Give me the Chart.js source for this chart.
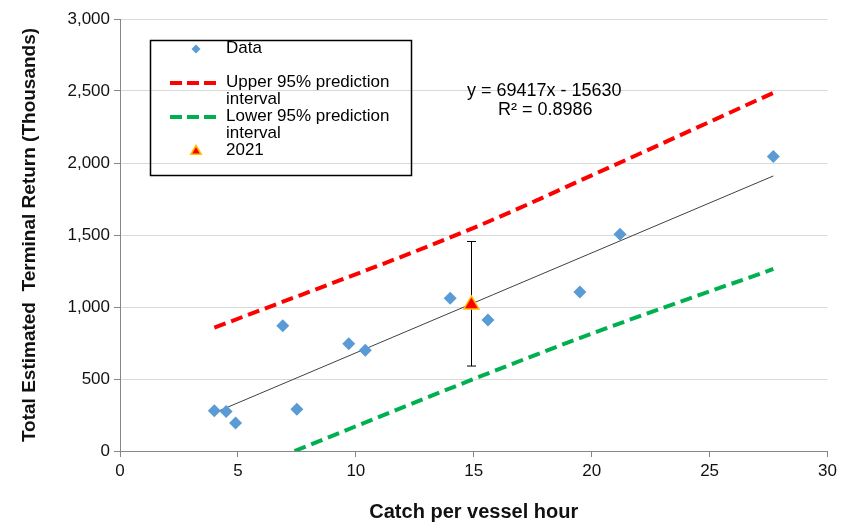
<!DOCTYPE html>
<html>
<head>
<meta charset="utf-8">
<script src="https://cdn.jsdelivr.net/npm/chart.js@4.4.0/dist/chart.umd.min.js"></script>
<style>
  html, body { margin: 0; padding: 0; background: #fff; }
  #wrap { position: relative; width: 841px; height: 524px; }
</style>
</head>
<body>
<div id="wrap"><canvas id="chart" width="841" height="524"></canvas></div>
<script>
// ================== DATA ==================
const cpue    = [4.0, 4.5, 4.9, 6.9, 7.5, 9.7, 10.4, 14.0, 15.6, 19.5, 21.2, 27.7];
const returns = [280, 275, 195, 870, 290, 745, 700, 1060, 910, 1105, 1505, 2045];

const trendX = [4.0, 27.7];
const trendY = [265, 1910];

const upperX = [4.0, 15.0, 20.0, 27.7];
const upperY = [856, 1550, 1914, 2487];

const lowerX = [7.4, 15.0, 20.0, 27.7];
const lowerY = [0, 500, 815, 1264];

const yr2021X = [14.9];
const yr2021Y = [1020];
const errLow  = [590];
const errHigh = [1455];

const xTitle = "Catch per vessel hour";
const yTitle = "Total Estimated  Terminal Return (Thousands)";
const eqLines = ["y = 69417x - 15630", "R\u00b2 = 0.8986"];

// ================== HELPERS ==================
const FONT = "'Liberation Sans', Arial, sans-serif";
const BLUE = "#5b9bd5", RED = "#ff0000", GREEN = "#00b050";
const pts = (xs, ys) => xs.map((x, i) => ({ x, y: ys[i] }));

function diamond(ctx, x, y, r, fill) {
  ctx.beginPath();
  ctx.moveTo(x, y - r); ctx.lineTo(x + r, y); ctx.lineTo(x, y + r); ctx.lineTo(x - r, y);
  ctx.closePath(); ctx.fillStyle = fill; ctx.fill();
}
function triangle(ctx, x, y, r) {
  ctx.beginPath();
  ctx.moveTo(x, y - r); ctx.lineTo(x + r * 0.95, y + r * 0.6); ctx.lineTo(x - r * 0.95, y + r * 0.6);
  ctx.closePath(); ctx.fillStyle = "#ff0000"; ctx.fill();
  ctx.lineWidth = 1.5; ctx.strokeStyle = "#ffc000"; ctx.stroke();
}

// error bar on the 2021 point
const errorBars = {
  id: "errorBars",
  afterDatasetsDraw(chart) {
    const { ctx, scales: { x, y } } = chart;
    ctx.save();
    ctx.strokeStyle = "#000"; ctx.lineWidth = 1;
    yr2021X.forEach((v, i) => {
      const px = Math.round(x.getPixelForValue(v)) + 0.5;
      const top = y.getPixelForValue(errHigh[i]), bot = y.getPixelForValue(errLow[i]);
      ctx.beginPath();
      ctx.moveTo(px, top); ctx.lineTo(px, bot);
      ctx.moveTo(px - 4.5, top); ctx.lineTo(px + 4.5, top);
      ctx.moveTo(px - 4.5, bot); ctx.lineTo(px + 4.5, bot);
      ctx.stroke();
    });
    // triangle sits on top of the bar
    chart.getDatasetMeta(4).data.forEach(p => triangle(ctx, p.x, p.y, 8));
    ctx.restore();
  }
};

// legend box + trendline equation
const legendBox = {
  id: "legendBox",
  afterDraw(chart) {
    const ctx = chart.ctx;
    ctx.save();
    ctx.strokeStyle = "#000"; ctx.lineWidth = 1.5;
    ctx.strokeRect(150.5, 40.5, 261, 135);
    ctx.textBaseline = "middle"; ctx.textAlign = "left";

    diamond(ctx, 196, 49, 4.5, BLUE);

    ctx.lineWidth = 4; ctx.setLineDash([12, 5]);
    ctx.strokeStyle = RED;
    ctx.beginPath(); ctx.moveTo(170, 83); ctx.lineTo(220, 83); ctx.stroke();
    ctx.strokeStyle = GREEN;
    ctx.beginPath(); ctx.moveTo(170, 117); ctx.lineTo(220, 117); ctx.stroke();
    ctx.setLineDash([]);

    triangle(ctx, 196, 151, 5.5);

    ctx.font = "17px " + FONT; ctx.fillStyle = "#000";
    ctx.fillText("Data", 226, 48);
    ctx.fillText("Upper 95% prediction", 226, 82);
    ctx.fillText("interval", 226, 99);
    ctx.fillText("Lower 95% prediction", 226, 116);
    ctx.fillText("interval", 226, 133);
    ctx.fillText("2021", 226, 150);

    ctx.font = "18px " + FONT;
    ctx.fillText(eqLines[0], 467, 91);
    ctx.fillText(eqLines[1], 498, 110);
    ctx.restore();
  }
};

// ================== CHART ==================
new Chart(document.getElementById("chart"), {
  type: "scatter",
  data: {
    datasets: [
      { label: "Data", data: pts(cpue, returns), pointStyle: "rectRot", radius: 6.5,
        backgroundColor: BLUE, borderColor: BLUE, borderWidth: 0, showLine: false, order: 1 },
      { label: "Trend", data: pts(trendX, trendY), showLine: true, pointRadius: 0,
        borderColor: "#404040", borderWidth: 1, order: 2 },
      { label: "Upper 95% prediction interval", data: pts(upperX, upperY), showLine: true,
        pointRadius: 0, borderColor: RED, borderWidth: 4, borderDash: [12, 6], cubicInterpolationMode: "monotone", order: 3 },
      { label: "Lower 95% prediction interval", data: pts(lowerX, lowerY), showLine: true,
        pointRadius: 0, borderColor: GREEN, borderWidth: 4, borderDash: [12, 6], cubicInterpolationMode: "monotone", order: 3 },
      { label: "2021", data: pts(yr2021X, yr2021Y), pointRadius: 0, showLine: false, order: 0 }
    ]
  },
  options: {
    responsive: false,
    animation: false,
    devicePixelRatio: 1,
    layout: { padding: { top: 19, right: 8, left: 0, bottom: 0 } },
    plugins: { legend: { display: false }, tooltip: { enabled: false } },
    scales: {
      x: {
        type: "linear", min: 0, max: 30,
        afterFit: s => { s.height = 73; },
        ticks: { stepSize: 5, color: "#111", font: { family: FONT, size: 17 }, padding: 4 },
        grid: { drawOnChartArea: false, color: "#868686", tickLength: 6 },
        border: { color: "#868686" },
        title: { display: true, text: xTitle, color: "#111",
                 font: { family: FONT, size: 20, weight: "bold" }, padding: { top: 0, bottom: 0 } }
      },
      y: {
        min: 0, max: 3000,
        afterFit: s => { s.width = 120; },
        ticks: { stepSize: 500, color: "#111", font: { family: FONT, size: 17 }, padding: 4,
                 callback: v => v.toLocaleString("en-US") },
        grid: { color: "#d9d9d9", tickColor: "#868686", tickLength: 6 },
        border: { color: "#868686" },
        title: { display: true, text: yTitle, color: "#111",
                 font: { family: FONT, size: 19, weight: "bold" }, padding: { top: 18, bottom: 0 } }
      }
    }
  },
  plugins: [errorBars, legendBox]
});
</script>
</body>
</html>
